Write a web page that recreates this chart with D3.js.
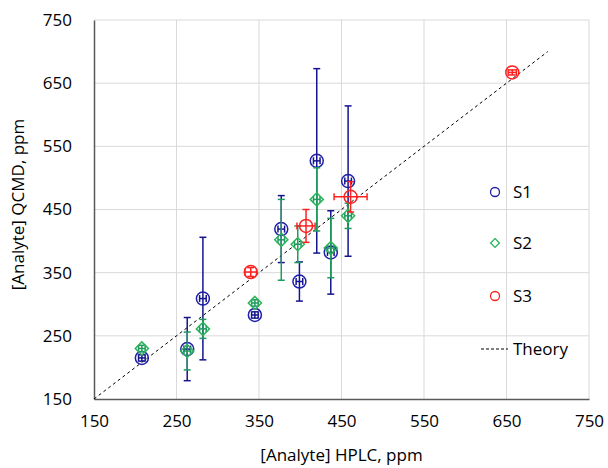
<!DOCTYPE html>
<html>
<head>
<meta charset="utf-8">
<script src="https://cdn.jsdelivr.net/npm/d3@7"></script>
<style>
  body { margin: 0; background: #fff; }
  text { font-family: "Open Sans", sans-serif; fill: #000; }
</style>
</head>
<body>
<div id="plot1"></div>
<script>
// data
var s1X    = [208, 263, 282, 345, 377, 399, 420, 437, 458];
var s1Y    = [215, 229, 309, 283, 419, 336, 527, 382, 495];
var s1Err  = [5, 50, 97, 5, 53, 31, 146, 66, 119];

var s2X    = [208, 263, 282, 345, 377, 397, 420, 437, 458];
var s2Y    = [230, 226, 261, 302, 402, 395, 466, 389, 440];
var s2Err  = [5, 30, 15, 5, 64, 29, 50, 47, 20];

var s3X    = [340, 407, 461, 657];
var s3Y    = [351, 424, 470, 667];
var s3XErr = [7, 11, 20, 5];
var s3YErr = [7, 26, 24, 4];

var theory = [150, 700];
var ticks = [150, 250, 350, 450, 550, 650, 750];

var margin = {top: 20, right: 19, bottom: 69, left: 94},
    width = 608 - margin.left - margin.right,
    height = 468 - margin.top - margin.bottom;

var svg = d3.select("#plot1")
  .append("svg")
    .attr("width", 608)
    .attr("height", 468)
  .append("g")
    .attr("transform", "translate(" + margin.left + "," + margin.top + ")");

var x = d3.scaleLinear().domain([150, 750]).range([0, width]);
var y = d3.scaleLinear().domain([150, 750]).range([height, 0]);

// gridlines
svg.append("g")
  .selectAll("line")
  .data(ticks.slice(1))
  .enter().append("line")
    .attr("x1", function(d) { return x(d) })
    .attr("x2", function(d) { return x(d) })
    .attr("y1", 0).attr("y2", height)
    .attr("stroke", "#d9d9d9").attr("stroke-width", 1);
svg.append("g")
  .selectAll("line")
  .data(ticks.slice(1))
  .enter().append("line")
    .attr("y1", function(d) { return y(d) })
    .attr("y2", function(d) { return y(d) })
    .attr("x1", 0).attr("x2", width)
    .attr("stroke", "#d9d9d9").attr("stroke-width", 1);

// axes
var xAxis = svg.append("g")
  .attr("transform", "translate(0," + height + ")")
  .call(d3.axisBottom(x).tickValues(ticks).tickSize(0).tickPadding(16));
var yAxis = svg.append("g")
  .call(d3.axisLeft(y).tickValues(ticks).tickSize(0).tickPadding(22));
[xAxis, yAxis].forEach(function(a) {
  a.select(".domain").attr("stroke", "#595959").attr("stroke-width", 1.5);
  a.selectAll(".tick text")
    .style("font-size", "17px")
    .style("font-family", "'Open Sans', sans-serif")
    .attr("fill", "#000");
});

// axis titles
svg.append("text")
  .attr("text-anchor", "middle")
  .attr("x", width / 2)
  .attr("y", height + 62)
  .style("font-size", "17px")
  .text("[Analyte] HPLC, ppm");
svg.append("text")
  .attr("text-anchor", "middle")
  .attr("transform", "rotate(-90)")
  .attr("x", -height / 2 + 5)
  .attr("y", -margin.left + 24)
  .style("font-size", "17px")
  .text("[Analyte] QCMD, ppm");

// theory line
svg.append("line")
  .attr("x1", x(theory[0])).attr("y1", y(theory[0]))
  .attr("x2", x(theory[1])).attr("y2", y(theory[1]))
  .attr("stroke", "#000").attr("stroke-width", 1)
  .attr("stroke-dasharray", "3,3");

var cap = 3.5;

function errorBars(xs, ys, yErr, xErr, color) {
  var g = svg.append("g").attr("stroke", color).attr("stroke-width", 1.5).attr("fill", "none");
  xs.forEach(function(xv, i) {
    var yv = ys[i], ye = yErr[i], xe = xErr[i];
    g.append("line")
      .attr("x1", x(xv)).attr("x2", x(xv))
      .attr("y1", y(yv - ye)).attr("y2", y(yv + ye));
    g.append("line")
      .attr("x1", x(xv) - cap).attr("x2", x(xv) + cap)
      .attr("y1", y(yv - ye)).attr("y2", y(yv - ye));
    g.append("line")
      .attr("x1", x(xv) - cap).attr("x2", x(xv) + cap)
      .attr("y1", y(yv + ye)).attr("y2", y(yv + ye));
    g.append("line")
      .attr("x1", x(xv - xe)).attr("x2", x(xv + xe))
      .attr("y1", y(yv)).attr("y2", y(yv));
    g.append("line")
      .attr("x1", x(xv - xe)).attr("x2", x(xv - xe))
      .attr("y1", y(yv) - cap).attr("y2", y(yv) + cap);
    g.append("line")
      .attr("x1", x(xv + xe)).attr("x2", x(xv + xe))
      .attr("y1", y(yv) - cap).attr("y2", y(yv) + cap);
  });
}

var small = function(arr) { return arr.map(function() { return 4 }) };

var blue = "#1f1fa8", blueErr = "#14148f";
var green = "#2cb35a", greenErr = "#1e9a5e";
var red = "#ff2020";

// S1
errorBars(s1X, s1Y, s1Err, small(s1X), blueErr);
svg.append("g").selectAll("circle")
  .data(s1X)
  .enter().append("circle")
    .attr("cx", function(d) { return x(d) })
    .attr("cy", function(d, i) { return y(s1Y[i]) })
    .attr("r", 6.5)
    .attr("fill", "none").attr("stroke", blue).attr("stroke-width", 1.5);

// S2
errorBars(s2X, s2Y, s2Err, small(s2X), greenErr);
var diamond = d3.symbol().type(d3.symbolDiamond2).size(110);
svg.append("g").selectAll("path")
  .data(s2X)
  .enter().append("path")
    .attr("d", diamond)
    .attr("transform", function(d, i) { return "translate(" + x(d) + "," + y(s2Y[i]) + ")" })
    .attr("fill", "none").attr("stroke", green).attr("stroke-width", 1.5);

// S3
errorBars(s3X, s3Y, s3YErr, s3XErr, red);
svg.append("g").selectAll("circle")
  .data(s3X)
  .enter().append("circle")
    .attr("cx", function(d) { return x(d) })
    .attr("cy", function(d, i) { return y(s3Y[i]) })
    .attr("r", 6.5)
    .attr("fill", "none").attr("stroke", red).attr("stroke-width", 1.5);

// legend
var lx = 401, ly = [172, 223, 276, 329];
var leg = svg.append("g");
leg.append("circle").attr("cx", lx).attr("cy", ly[0]).attr("r", 4.5)
  .attr("fill", "none").attr("stroke", blue).attr("stroke-width", 1.3);
leg.append("path").attr("d", d3.symbol().type(d3.symbolDiamond2).size(50))
  .attr("transform", "translate(" + lx + "," + ly[1] + ")")
  .attr("fill", "none").attr("stroke", green).attr("stroke-width", 1.3);
leg.append("circle").attr("cx", lx).attr("cy", ly[2]).attr("r", 4.5)
  .attr("fill", "none").attr("stroke", red).attr("stroke-width", 1.3);
leg.append("line").attr("x1", lx - 14).attr("x2", lx + 13)
  .attr("y1", ly[3]).attr("y2", ly[3])
  .attr("stroke", "#000").attr("stroke-width", 1).attr("stroke-dasharray", "3,2");
["S1", "S2", "S3", "Theory"].forEach(function(t, i) {
  leg.append("text")
    .attr("x", lx + 18).attr("y", ly[i])
    .attr("dy", "0.35em")
    .style("font-size", "17px")
    .text(t);
});
</script>
</body>
</html>
